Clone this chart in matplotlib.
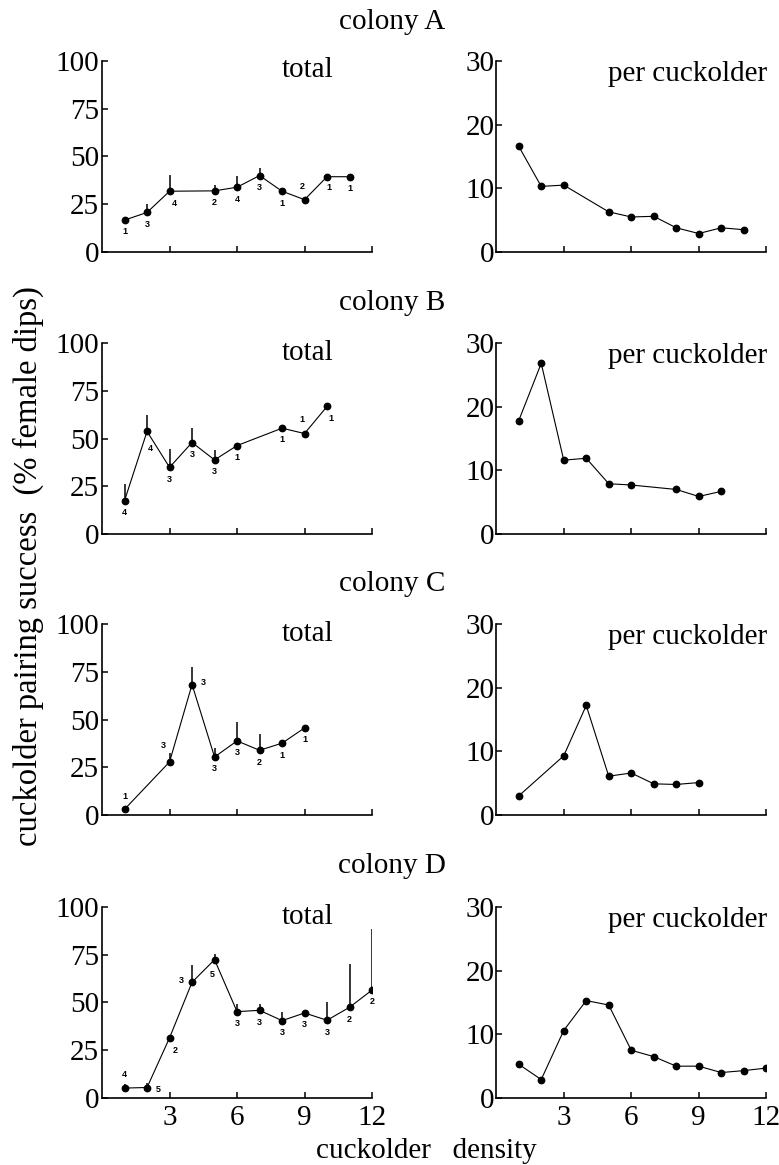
import numpy as np
import matplotlib
matplotlib.use("Agg")
import matplotlib.pyplot as plt

plt.rcParams["font.family"] = ["Liberation Serif", "DejaVu Serif"]

# ---------- data ----------
colonies = ["A", "B", "C", "D"]

# colony A
a_x = [1, 2, 3, 5, 6, 7, 8, 9, 10, 11]
a_total = [16.7, 20.7, 31.8, 32.0, 33.9, 40.0, 31.8, 27.4, 39.4, 39.4]
a_err = [0, 4.4, 8.6, 3.1, 6.0, 4.1, 0, 0, 0, 0]
a_n = [1, 3, 4, 2, 4, 3, 1, 2, 1, 1]
a_per = [16.6, 10.3, 10.5, 6.3, 5.5, 5.6, 3.8, 2.9, 3.8, 3.5]

# colony B
b_x = [1, 2, 3, 4, 5, 6, 8, 9, 10]
b_total = [17.5, 53.7, 34.9, 47.9, 38.8, 46.3, 55.4, 52.6, 66.8]
b_err = [8.6, 8.8, 9.7, 7.5, 5.2, 0, 0, 0, 0]
b_n = [4, 4, 3, 3, 3, 1, 1, 1, 1]
b_per = [17.8, 26.8, 11.6, 11.9, 7.9, 7.7, 7.0, 5.9, 6.7]

# colony C
c_x = [1, 3, 4, 5, 6, 7, 8, 9]
c_total = [3.0, 27.8, 68.3, 30.4, 38.8, 33.9, 37.6, 45.6]
c_err = [0, 4.9, 9.1, 4.9, 9.9, 8.7, 0, 0]
c_n = [1, 3, 3, 3, 3, 2, 1, 1]
c_per = [3.0, 9.3, 17.2, 6.1, 6.6, 4.9, 4.8, 5.1]

# colony D
d_x = [1, 2, 3, 4, 5, 6, 7, 8, 9, 10, 11, 12]
d_total = [5.2, 5.5, 31.5, 60.6, 72.4, 45.2, 45.9, 40.5, 44.5, 40.7, 47.5, 56.5]
d_err = [2.2, 2.5, 0, 9.2, 3.0, 4.0, 3.3, 4.4, 0, 9.7, 22.7, 32.0]
d_n = [4, 5, 2, 3, 5, 3, 3, 3, 3, 3, 2, 2]
d_per = [5.3, 2.9, 10.6, 15.3, 14.6, 7.5, 6.5, 5.0, 5.0, 4.0, 4.3, 4.7]

total_ticks = [0, 25, 50, 75, 100]
per_ticks = [0, 10, 20, 30]
x_ticks = [3, 6, 9, 12]

# ---------- label placement (offset in points for the n labels) ----------
B_ = (0, -8.5)   # below
a_off = [B_, B_, (3.5, -9), B_, B_, B_, B_, (-1.5, 9.5), (1.5, -8), B_]
b_off = [B_, (2, -12.5), B_, B_, B_, B_, B_, (-1.5, 10), (3, -8.5)]
c_off = [(0, 9), (-4.5, 12), (8, 1.5), B_, B_, B_, B_, B_]
d_off = [(0, 9.5), (8, -1.5), (4, -9), (-8, 1.5), (-1.5, -11), B_, B_, B_, B_, B_, B_, B_]

panels = [
    (a_x, a_total, a_err, a_n, a_per, a_off),
    (b_x, b_total, b_err, b_n, b_per, b_off),
    (c_x, c_total, c_err, c_n, c_per, c_off),
    (d_x, d_total, d_err, d_n, d_per, d_off),
]

# ---------- figure ----------
fig = plt.figure(figsize=(7.79, 11.65), dpi=100)

left_x0, right_x0, ax_w, ax_h = 0.131, 0.637, 0.3466, 0.164
bottoms = [0.7837, 0.5416, 0.3004, 0.0575]
title_y = [0.981, 0.740, 0.499, 0.257]

FS = 21
LW = 0.8


def style_axis(ax, ymax, yticks, show_xlabels):
    ax.set_xlim(0, 12)
    ax.set_ylim(0, ymax)
    ax.set_xticks(x_ticks)
    ax.set_yticks(yticks)
    for s in ["top", "right"]:
        ax.spines[s].set_visible(False)
    for s in ["left", "bottom"]:
        ax.spines[s].set_linewidth(1.2)
    ax.tick_params(direction="in", length=4, width=1.1, labelsize=FS)
    ax.tick_params(axis="y", pad=2)
    ax.tick_params(axis="x", pad=5)
    if not show_xlabels:
        ax.set_xticklabels([])


for i, (x, tot, err, n, per, off) in enumerate(panels):
    last = i == len(panels) - 1

    # total
    ax = fig.add_axes([left_x0, bottoms[i], ax_w, ax_h])
    ax.errorbar(x, tot, yerr=[np.zeros(len(err)), err], fmt="none",
                ecolor="black", elinewidth=1.1, capsize=0, zorder=2)
    ax.plot(x, tot, color="black", lw=LW, marker="o", markersize=4.6, zorder=3)
    for xi, yi, ni, oi in zip(x, tot, n, off):
        ax.annotate(str(ni), (xi, yi), xytext=oi, textcoords="offset points",
                    ha="center", va="center", fontsize=6.5, fontweight="bold",
                    family=["Liberation Sans", "DejaVu Sans"])
    ax.text(0.76, 0.95, "total", transform=ax.transAxes, ha="center",
            va="center", fontsize=FS)
    style_axis(ax, 100, total_ticks, last)
    ax.set_yticklabels([str(t) for t in total_ticks])

    # per cuckolder
    ax2 = fig.add_axes([right_x0, bottoms[i], ax_w, ax_h])
    ax2.plot(x, per, color="black", lw=LW, marker="o", markersize=4.6)
    ax2.text(0.71, 0.93, "per cuckolder", transform=ax2.transAxes,
             ha="center", va="center", fontsize=FS)
    style_axis(ax2, 30, per_ticks, last)
    ax2.tick_params(axis="y", pad=1)

    fig.text(0.503, title_y[i], f"colony {colonies[i]}", ha="center",
             va="center", fontsize=FS)

fig.text(0.036, 0.514, "cuckolder pairing success  (% female dips)",
         rotation=90, ha="center", va="center", fontsize=23.5)
fig.text(0.547, 0.012, "cuckolder   density", ha="center", va="center",
         fontsize=FS)

fig.savefig("out.png", dpi=100)
